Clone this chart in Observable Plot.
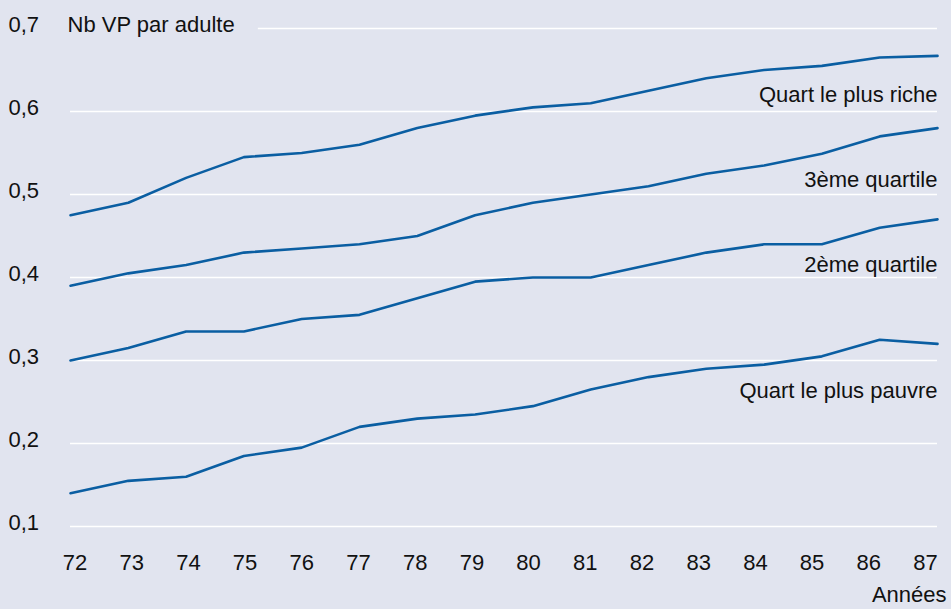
<!DOCTYPE html>
<html>
<head>
<meta charset="utf-8">
<script src="https://cdn.jsdelivr.net/npm/d3@7"></script>
<script src="https://cdn.jsdelivr.net/npm/@observablehq/plot@0.6"></script>
<style>
  html, body { margin: 0; padding: 0; background: #e1e4ef; }
</style>
</head>
<body>
<div id="chart"></div>
<script>
const years = [72, 73, 74, 75, 76, 77, 78, 79, 80, 81, 82, 83, 84, 85, 86, 87];
const riche  = [0.475, 0.49, 0.52, 0.545, 0.55, 0.56, 0.58, 0.595, 0.605, 0.61, 0.625, 0.64, 0.65, 0.655, 0.665, 0.667];
const q3     = [0.39, 0.405, 0.415, 0.43, 0.435, 0.44, 0.45, 0.475, 0.49, 0.50, 0.51, 0.525, 0.535, 0.549, 0.57, 0.58];
const q2     = [0.30, 0.315, 0.335, 0.335, 0.35, 0.355, 0.375, 0.395, 0.40, 0.40, 0.415, 0.43, 0.44, 0.44, 0.46, 0.47];
const pauvre = [0.14, 0.155, 0.16, 0.185, 0.195, 0.22, 0.23, 0.235, 0.245, 0.265, 0.28, 0.29, 0.295, 0.305, 0.325, 0.32];
const seriesNames = ["Quart le plus riche", "3ème quartile", "2ème quartile", "Quart le plus pauvre"];
const seriesValues = [riche, q3, q2, pauvre];
const labelGrid = [0.6, 0.5, 0.4, 0.3];
const yTicks = [0.1, 0.2, 0.3, 0.4, 0.5, 0.6, 0.7];
const yTitle = "Nb VP par adulte";
const xTitle = "Années";

const data = seriesNames.flatMap((name, i) =>
  years.map((yr, j) => ({series: name, year: yr, value: seriesValues[i][j]})));

const labelDy = [-16.5, -14.5, -13, 30];
const fmt = d => d.toFixed(1).replace(".", ",");
const font = "'Liberation Sans', Arial, Helvetica, sans-serif";
const fs = 22;

const chart = Plot.plot({
  width: 951,
  height: 609,
  marginLeft: 70,
  marginRight: 14,
  marginTop: 28,
  marginBottom: 83,
  style: {background: "#e1e4ef", fontFamily: font, fontSize: fs + "px", color: "#111"},
  x: {domain: [72, 87]},
  y: {domain: [0.1, 0.7]},
  marks: [
    Plot.ruleY(yTicks.filter(d => d < 0.7), {stroke: "white", strokeWidth: 1.5}),
    Plot.ruleY([0.7], {x1: 75.25, x2: 87, stroke: "white", strokeWidth: 1.5}),
    Plot.line(data, {x: "year", y: "value", z: "series", stroke: "#0a5ea2", strokeWidth: 2.6}),
    Plot.axisY(yTicks, {tickSize: 0, textAnchor: "start", dx: -53, dy: -4, tickFormat: fmt, label: null, fontSize: fs, fill: "#111"}),
    ...years.map((yr, i) =>
      Plot.axisX([yr], {tickSize: 0, tickPadding: 28, dx: 4.5 - 1.1 * i, tickFormat: d => String(d), label: null, fontSize: fs, fill: "#111"})),
    Plot.text([yTitle], {frameAnchor: "top-left", textAnchor: "start", lineAnchor: "middle", dx: -3, dy: -4, fontSize: fs, fill: "#111"}),
    Plot.text([xTitle], {frameAnchor: "bottom-right", textAnchor: "end", lineAnchor: "middle", dx: 9, dy: 68, fontSize: fs, fill: "#111"}),
    ...seriesNames.map((name, i) =>
      Plot.text([name], {x: 87, y: labelGrid[i], textAnchor: "end", lineAnchor: "middle", dy: labelDy[i], fontSize: fs, fill: "#111"}))
  ]
});
document.getElementById("chart").append(chart);
</script>
</body>
</html>
